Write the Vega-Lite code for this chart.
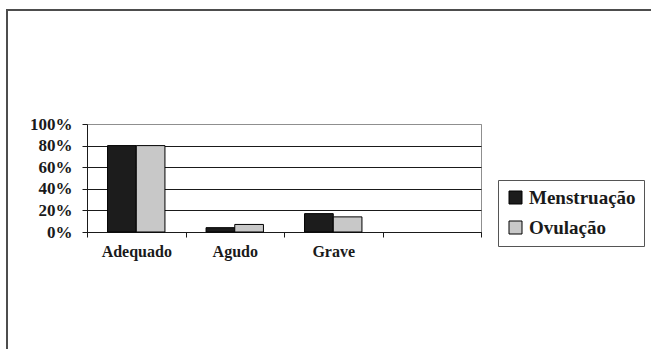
{
  "$schema": "https://vega.github.io/schema/vega-lite/v6.json",
  "width": 394,
  "height": 108,
  "autosize": {"type": "none"},
  "padding": {"left": 87, "top": 124, "right": 170, "bottom": 117},
  "background": "white",
  "layer": [
    {
      "data": {"values": [{}]},
      "mark": {"type": "rect", "fill": null, "stroke": "#4d4d4d", "strokeWidth": 2, "clip": false},
      "encoding": {
        "x": {"value": -80},
        "x2": {"value": 600},
        "y": {"value": -114},
        "y2": {"value": 300}
      }
    },
    {
      "data": {
        "values": [
          {"categoria": "Adequado", "fase": "Menstruação", "valor": 80},
          {"categoria": "Adequado", "fase": "Ovulação", "valor": 80},
          {"categoria": "Agudo", "fase": "Menstruação", "valor": 4},
          {"categoria": "Agudo", "fase": "Ovulação", "valor": 7},
          {"categoria": "Grave", "fase": "Menstruação", "valor": 17},
          {"categoria": "Grave", "fase": "Ovulação", "valor": 14}
        ]
      },
      "mark": {"type": "bar", "stroke": "#000000", "strokeWidth": 1, "opacity": 1},
      "encoding": {
        "x": {
          "field": "categoria",
          "type": "nominal",
          "scale": {"domain": ["Adequado", "Agudo", "Grave", ""], "paddingInner": 0, "paddingOuter": 0},
          "axis": {
            "title": null,
            "labelAngle": 0,
            "tickBand": "extent",
            "tickSize": 5,
            "labelPadding": 6,
            "grid": false
          }
        },
        "xOffset": {
          "field": "fase",
          "type": "nominal",
          "scale": {"domain": ["Menstruação", "Ovulação"], "paddingInner": 0, "paddingOuter": 0.716}
        },
        "y": {
          "field": "valor",
          "type": "quantitative",
          "scale": {"domain": [0, 100], "nice": false},
          "axis": {
            "title": null,
            "values": [0, 20, 40, 60, 80, 100],
            "labelExpr": "datum.value + '%'",
            "tickSize": 5,
            "labelPadding": 10,
            "labelFontSize": 17,
            "grid": true,
            "gridColor": {"condition": {"test": "datum.value === 100", "value": "#8f8f8f"}, "value": "#1a1a1a"},
            "gridWidth": 1
          }
        },
        "color": {
          "field": "fase",
          "type": "nominal",
          "scale": {"domain": ["Menstruação", "Ovulação"], "range": ["#1c1c1c", "#c8c8c8"]},
          "legend": {
            "title": null,
            "orient": "none",
            "legendX": 411,
            "legendY": 56,
            "strokeColor": "#555555",
            "padding": 8,
            "symbolType": "square",
            "symbolSize": 169,
            "symbolStrokeColor": "#000000",
            "symbolStrokeWidth": 1,
            "symbolOpacity": 1,
            "labelFont": "Liberation Serif",
            "labelFontWeight": "bold",
            "labelFontSize": 19,
            "labelColor": "#1a1a1a",
            "labelOffset": 4,
            "rowPadding": 10
          }
        }
      }
    }
  ],
  "config": {
    "view": {"stroke": "#8f8f8f", "strokeWidth": 1},
    "axis": {
      "labelFont": "Liberation Serif",
      "labelFontWeight": "bold",
      "labelFontSize": 16,
      "labelColor": "#1a1a1a",
      "domainColor": "#1a1a1a",
      "tickColor": "#1a1a1a",
      "domainWidth": 1,
      "tickWidth": 1
    }
  }
}
